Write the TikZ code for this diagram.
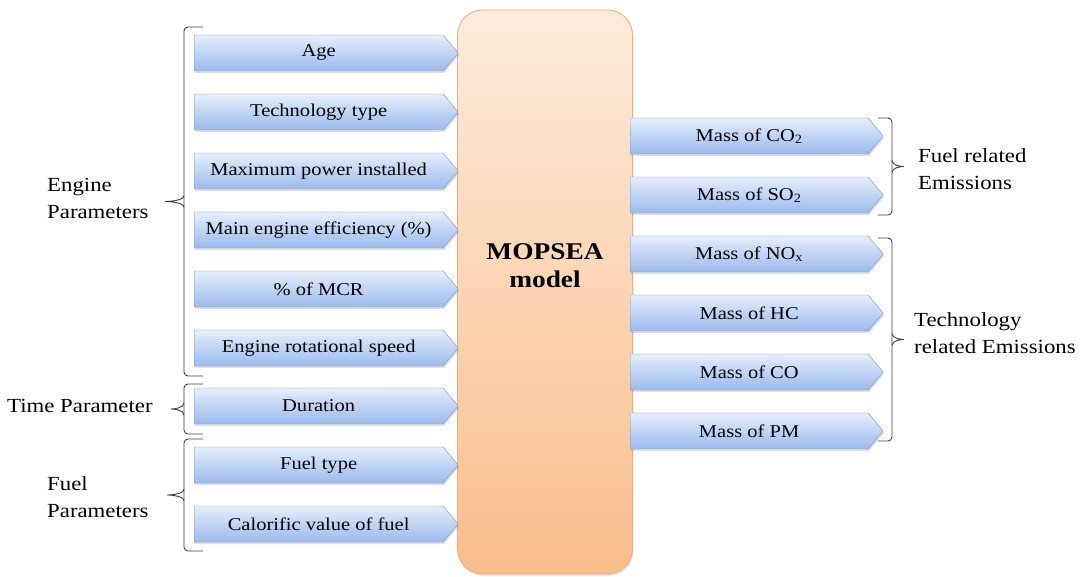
\documentclass[tikz,border=0pt]{standalone}
\usepackage{fontspec}
\setmainfont{Liberation Serif}[FakeStretch=1.14]
\usepackage{tikz}
\usetikzlibrary{shapes.symbols,calc,shadows}

\definecolor{arrowtop}{RGB}{230,238,252}
\definecolor{arrowbot}{RGB}{155,186,236}
\definecolor{arrowline}{RGB}{118,150,210}
\definecolor{modeltop}{RGB}{253,235,220}
\definecolor{modelbot}{RGB}{250,190,140}
\definecolor{modelline}{RGB}{240,172,122}

\tikzset{
  param/.style={signal, signal to=east, signal pointer angle=100,
    minimum width=264pt, minimum height=36pt, inner sep=0pt, anchor=west,
    top color=arrowtop, bottom color=arrowbot, draw=arrowline,
    drop shadow={shadow xshift=1pt, shadow yshift=-2pt, opacity=.25},
    font=\fontsize{18}{20}\selectfont},
  result/.style={param, minimum width=253pt},
  grouplabel/.style={anchor=west, align=left, inner sep=0pt,
    font=\fontsize{20}{27}\selectfont},
  bracket/.style={draw=black!75, line width=0.9pt}
}

\begin{document}
\begin{tikzpicture}[x=1pt,y=-1pt]
  \useasboundingbox (0,0) rectangle (1088,577);
  \def\grp#1#2#3#4#5{
    \draw[bracket, rounded corners=4pt] (#1,#4) -- (#2,#4) -- (#2,#5) -- (#1,#5);
    \coordinate (m) at (#2,{(#4+#5)/2});
    \draw[bracket] ($(m)+(0,-6)$) .. controls +(0,5) and +({(#2-#3)/4},0) .. (#3,{(#4+#5)/2})
      .. controls +({(#2-#3)/4},0) and +(0,-5) .. ($(m)+(0,6)$);
  }

  % model block
  \node[draw=modelline, thick, top color=modeltop, bottom color=modelbot,
    rounded corners=25pt, minimum width=175pt, minimum height=564pt,
    drop shadow={shadow xshift=1pt, shadow yshift=-2pt, opacity=.2}] (model) at (545,292) {};
  \node[font=\bfseries\fontsize{24}{28}\selectfont, align=center] (modelname) at (545,266) {MOPSEA\\model};

  % inputs
  \node[param] (age) at (194,53) {Age};
  \node[param] (tech) at (194,112) {Technology type};
  \node[param] (power) at (194,171) {Maximum power installed};
  \node[param] (eff) at (194,230) {Main engine efficiency (\%)};
  \node[param] (mcr) at (194,289) {\% of MCR};
  \node[param] (speed) at (194,348) {Engine rotational speed};
  \node[param] (dur) at (194,406) {Duration};
  \node[param] (fuel) at (194,465) {Fuel type};
  \node[param] (calor) at (194,524) {Calorific value of fuel};

  % outputs
  \node[result] (co2) at (630,136) {Mass of CO\textsubscript{2}};
  \node[result] (so2) at (630,195) {Mass of SO\textsubscript{2}};
  \node[result] (nox) at (630,254) {Mass of NO\textsubscript{x}};
  \node[result] (hc) at (630,313) {Mass of HC};
  \node[result] (co) at (630,372) {Mass of CO};
  \node[result] (pm) at (630,431) {Mass of PM};

  % braces
  \grp{203}{184}{165}{27}{376}
  \grp{203}{184}{171}{384}{434}
  \grp{203}{184}{167}{439}{551}
  \grp{878}{892}{904}{118}{215}
  \grp{878}{892}{904}{238}{441}

  \node[grouplabel] (engine) at (47,198) {Engine\\Parameters};
  \node[grouplabel] (time) at (7,406) {Time Parameter};
  \node[grouplabel] (fuelgrp) at (47,497) {Fuel\\Parameters};
  \node[grouplabel] (fuelem) at (918,169) {Fuel related\\ Emissions};
  \node[grouplabel] (techem) at (914,333) {Technology\\related Emissions};
\end{tikzpicture}
\end{document}
